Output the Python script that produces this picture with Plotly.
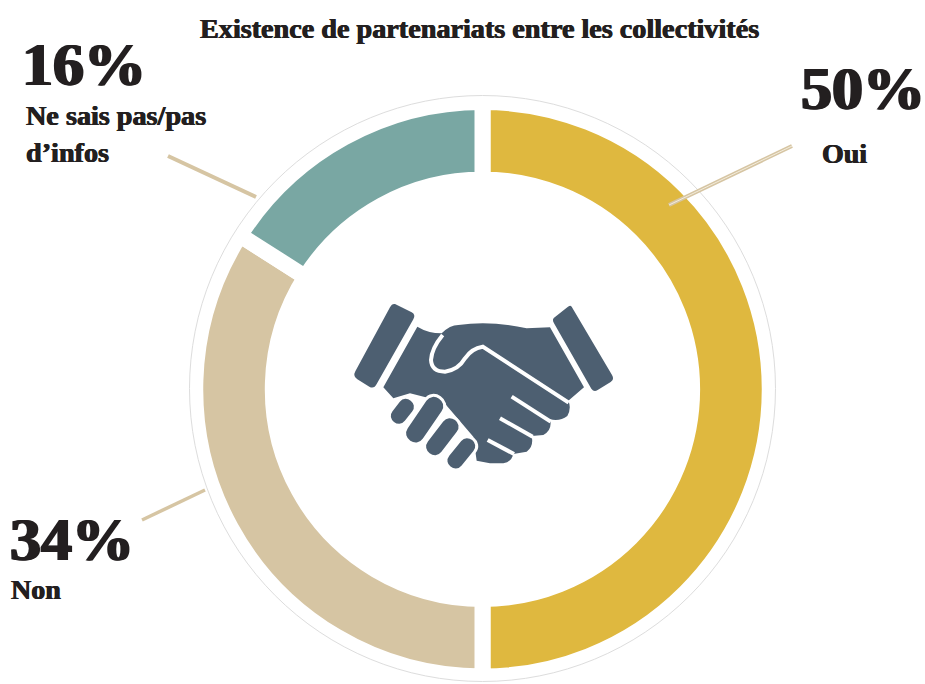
import plotly.graph_objects as go

categories = ["Oui", "Non", "Ne sais pas/pas d’infos"]
values = [50, 34, 16]
colors = ["#DFB83F", "#D6C5A3", "#79A7A3"]
percent_labels = ["50%", "34%", "16%"]
title_text = "Existence de partenariats entre les collectivités"

W, H = 925, 684
DARK = "#4D5F71"
INK = "#231F20"
FONT = "Liberation Serif"


def px(x):
    return x / W


def py(y):
    return 1 - y / H


def zp(x, y):
    """zoomed icon-crop coordinates to paper coordinates"""
    return px(330 + x / 3), py(280 + y / 3)


def path(cmds):
    s = ""
    for c in cmds:
        if isinstance(c, str):
            s += c
        else:
            a, b = zp(*c)
            s += f"{a:.5f},{b:.5f} "
    return s


def stadium(a, b, hw):
    ax, ay = a
    bx, by = b
    dx, dy = bx - ax, by - ay
    n = (dx * dx + dy * dy) ** 0.5
    ux, uy = dx / n, dy / n
    nx, ny = -uy * hw, ux * hw
    tx, ty = ux * hw * 1.3, uy * hw * 1.3
    return path([
        "M", (ax + nx, ay + ny), "L", (bx + nx, by + ny),
        "C", (bx + nx + tx, by + ny + ty), (bx - nx + tx, by - ny + ty), (bx - nx, by - ny),
        "L", (ax - nx, ay - ny),
        "C", (ax - nx - tx, ay - ny - ty), (ax + nx - tx, ay + ny - ty), (ax + nx, ay + ny), "Z",
    ])


def dark_shape(p, line="rgba(0,0,0,0)", w=0):
    return dict(type="path", xref="paper", yref="paper", path=p, fillcolor=DARK,
                line=dict(color=line, width=w), layer="above")


def white_line(p, w=4):
    return dict(type="path", xref="paper", yref="paper", path=p,
                line=dict(color="white", width=w), layer="above")


def seg(x0, y0, x1, y1, color, w):
    return dict(type="line", xref="paper", yref="paper", x0=px(x0), y0=py(y0), x1=px(x1), y1=py(y1),
                line=dict(color=color, width=w), layer="above")


shapes = [
    dict(type="circle", xref="paper", yref="paper", x0=px(189.5), x1=px(775.5), y0=py(681.5), y1=py(95.5),
         line=dict(color="#DDDDDD", width=1), layer="above"),
    seg(168, 156, 256, 197, "#D6C5A3", 4),
    seg(142, 520, 205, 490, "#D6C5A3", 3.5),
    seg(792, 146, 669, 205, "#D6C5A3", 4),
    seg(792, 146, 669, 205, "#F3ECDC", 1),
]

# cuffs
shapes.append(dark_shape(path(["M", (195, 72), "L", (245, 97), "Q", (258, 104), (250, 118), "L", (140, 312),
                               "Q", (132, 328), (118, 320), "L", (82, 298), "Q", (68, 288), (76, 274),
                               "L", (180, 82), "Q", (186, 70), (195, 72), "Z"])))
shapes.append(dark_shape(path(["M", (725, 80), "L", (846, 285), "Q", (854, 298), (842, 306), "L", (803, 330),
                               "Q", (792, 338), (784, 326), "L", (672, 130), "Q", (664, 116), (676, 110),
                               "L", (712, 82), "Q", (720, 74), (725, 80), "Z"])))
# hands body
shapes.append(dark_shape(path([
    "M", (262, 140), "Q", (295, 160), (335, 160), "Q", (360, 135), (385, 135), "Q", (480, 120), (590, 145),
    "L", (660, 142), "L", (762, 322), "L", (715, 362), "Q", (725, 385), (712, 408), "Q", (690, 425), (660, 418),
    "Q", (668, 450), (640, 465), "L", (605, 468), "Q", (612, 500), (590, 515), "L", (550, 522),
    "Q", (545, 545), (520, 550), "L", (480, 550), "L", (440, 542), "L", (430, 470), "L", (340, 365),
    "L", (240, 340), "L", (190, 355), "L", (160, 322), "Z"])))
# thumb outline and finger splits
shapes.append(white_line(path([
    "M", (338, 165), "Q", (305, 205), (303, 240), "Q", (305, 275), (345, 275), "Q", (385, 270), (405, 235),
    "Q", (425, 205), (458, 200), "L", (716, 368)]), 4))
shapes.append(white_line(path(["M", (545, 350), "L", (662, 425)]), 4))
shapes.append(white_line(path(["M", (510, 415), "L", (608, 470)]), 4))
shapes.append(white_line(path(["M", (473, 480), "L", (552, 522)]), 4))
# left fingers
for a, b, hw in [((228, 380), (206, 408), 28), ((312, 378), (256, 460), 32),
                 ((360, 440), (314, 500), 30), ((412, 498), (376, 542), 28)]:
    shapes.append(dark_shape(stadium(a, b, hw), "white", 3))


def label(text, x, y, size, bold_px):
    shadow = f"{bold_px}px 0 0 {INK}, -{bold_px}px 0 0 {INK}"
    return dict(x=px(x), y=py(y), text=f"<b>{text}</b>", showarrow=False, xref="paper", yref="paper",
                xanchor="left", yanchor="middle", align="left",
                font=dict(family=FONT, size=size, color=INK, shadow=shadow), borderpad=0, borderwidth=0)


annotations = [
    label(title_text, 200, 29, 28.2, 0.5),
    label(percent_labels[2], 22, 64, 62, 1.2),
    label(percent_labels[0], 801, 88, 62, 1.2),
    label(percent_labels[1], 10, 539, 62, 1.2),
    label("Ne sais pas/pas<br>d’infos", 26, 134, 28.2, 0.5),
    label(categories[0], 822, 154, 28, 0.5),
    label(categories[1], 11, 589, 28, 0.5),
]

fig = go.Figure(go.Pie(
    labels=categories, values=values, sort=False, direction="clockwise", rotation=0,
    hole=0.73, textinfo="none", showlegend=False,
    marker=dict(colors=colors, line=dict(color="white", width=16)),
    domain=dict(x=[px(195), px(770)], y=[py(676.5), py(102)]),
))
fig.update_layout(width=W, height=H, margin=dict(l=0, r=0, t=0, b=0), autosize=False,
                  paper_bgcolor="white", plot_bgcolor="white", shapes=shapes, annotations=annotations)
fig.write_html("out.html", config={"displayModeBar": False},
               post_script="document.body.style.margin='0';document.documentElement.style.overflow='hidden';")
